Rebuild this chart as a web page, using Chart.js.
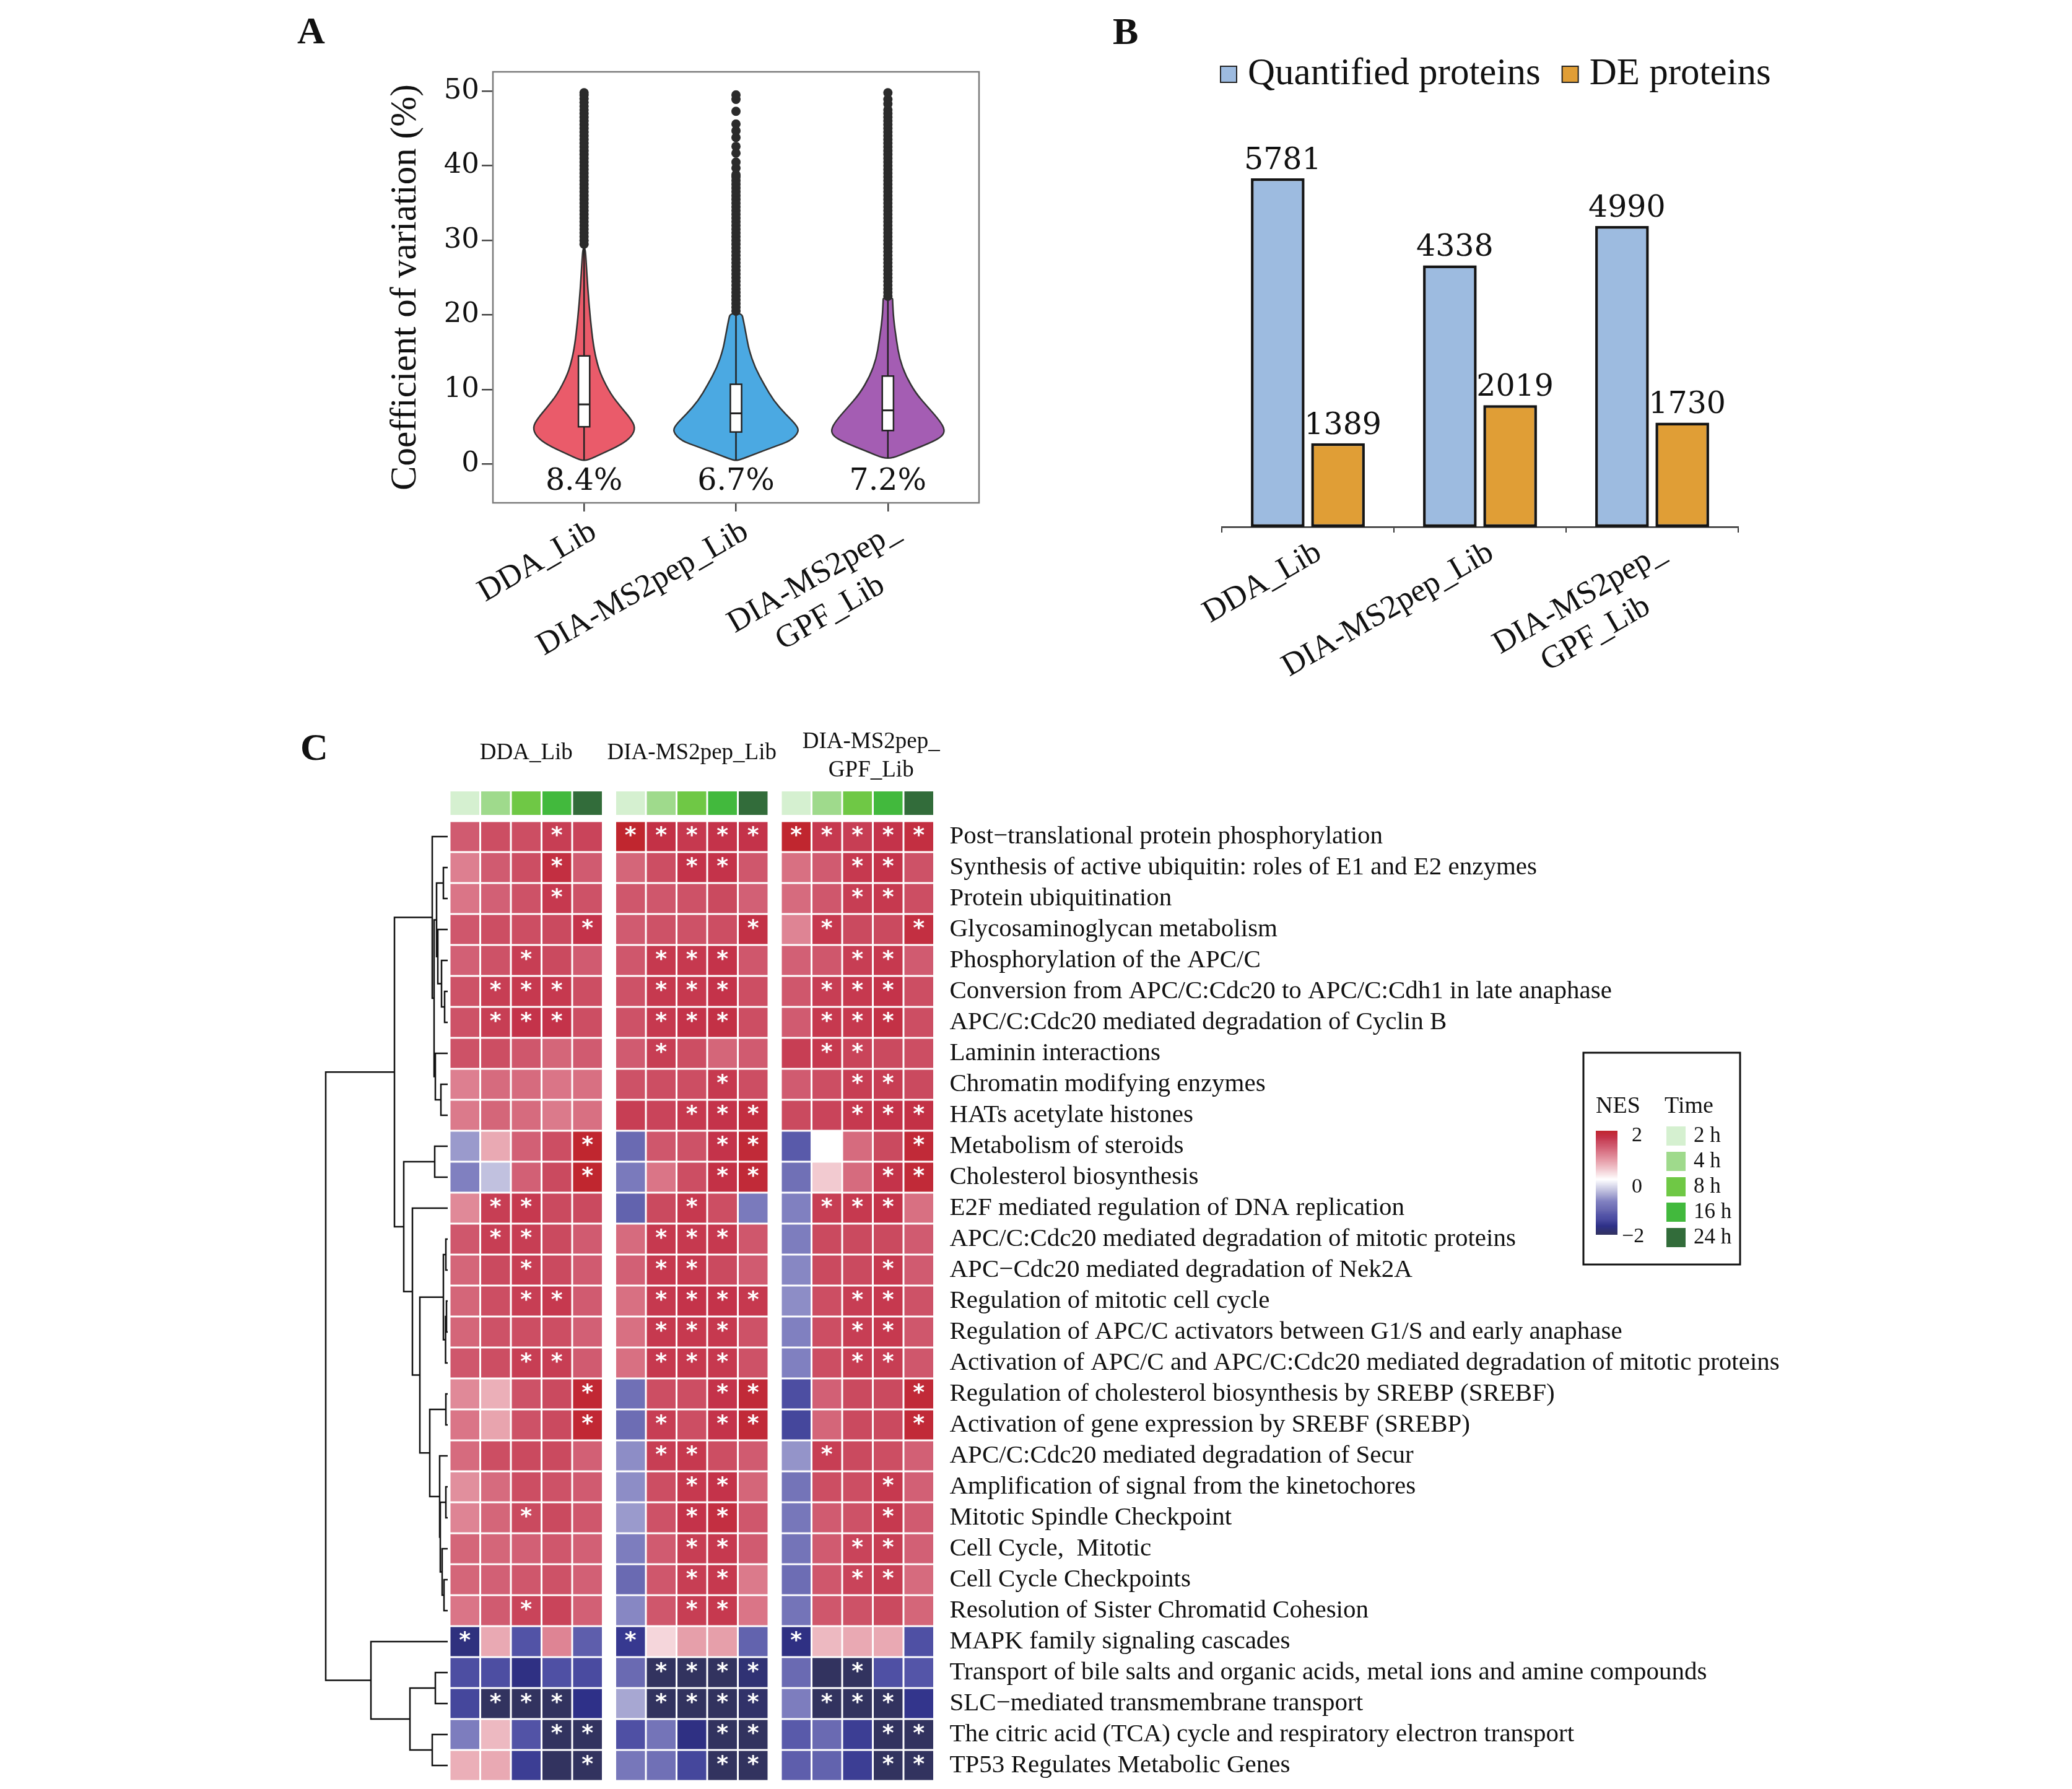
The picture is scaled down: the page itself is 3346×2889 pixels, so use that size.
<!DOCTYPE html>
<html>
<head>
<meta charset="utf-8">
<script src="https://cdn.jsdelivr.net/npm/chart.js@4.4.1/dist/chart.umd.min.js"></script>
<style>
  html, body { margin: 0; padding: 0; background: #fff; }
  body { width: 3346px; height: 2889px; position: relative; overflow: hidden; }
  canvas { position: absolute; }
  .tag { position: absolute; font: bold 62px "Liberation Serif", serif; color: #111; line-height: 1; }
</style>
</head>
<body>
<div class="tag" style="left:480px;top:18px">A</div>
<div class="tag" style="left:1797px;top:19px">B</div>
<div class="tag" style="left:485px;top:1175px">C</div>

<canvas id="cv" width="1000" height="1020" style="left:600px;top:100px"></canvas>
<canvas id="bars" width="1160" height="1120" style="left:1760px;top:0px"></canvas>
<canvas id="dendro" width="226" height="1739" style="left:500px;top:1150px"></canvas>
<canvas id="heat" width="2200" height="1739" style="left:700px;top:1150px"></canvas>

<script>
  'use strict';

  const TEXT = '"Liberation Serif", serif';
  const NUM = '"DejaVu Serif", serif';
  Chart.defaults.font.family = TEXT;
  Chart.defaults.color = '#111';

  // ---------- A: CV violins ----------
  // trailing spaces on the 2nd line pull it back under the centre of the first one
  const cvGroups = ['DDA_Lib', 'DIA-MS2pep_Lib', ['DIA-MS2pep_', 'GPF_Lib     ']];
  const cvLabels = ['8.4%', '6.7%', '7.2%'];
  const cvTicks = [0, 10, 20, 30, 40, 50];

  // density profile: CV level -> half width (x units)
  const ddaLevels = [0.5, 1.4, 2.6, 3.7, 4.9, 6.1, 7.6, 9.4, 11.8, 13.5, 15.9, 19.5, 23.6, 27.8, 29];
  const ddaWidth = [0.024, 0.118, 0.244, 0.314, 0.338, 0.306, 0.244, 0.175, 0.114, 0.086, 0.061, 0.041, 0.024, 0.012, 0.006];
  const ms2Levels = [0.5, 1.1, 2.3, 3.1, 4.3, 5.2, 6.7, 8.5, 10.6, 12.9, 15.3, 17.1, 19.5, 20.2];
  const ms2Width = [0.016, 0.094, 0.248, 0.358, 0.415, 0.399, 0.326, 0.248, 0.187, 0.126, 0.086, 0.069, 0.047, 0.037];
  const gpfLevels = [0.8, 1.7, 2.85, 3.7, 4.6, 5.8, 7.6, 9.4, 11.8, 14.1, 16.5, 19.5, 21.9, 22.3];
  const gpfWidth = [0.033, 0.138, 0.281, 0.358, 0.375, 0.342, 0.265, 0.187, 0.118, 0.077, 0.057, 0.037, 0.031, 0.031];

  const boxQ1 = [5.0, 4.3, 4.5];
  const boxMed = [8.0, 6.8, 7.2];
  const boxQ3 = [14.5, 10.7, 11.8];
  const whiskLo = [0.5, 0.5, 0.8];
  const whiskHi = [29, 20.2, 22.3];

  const ddaOut = [29.5, 30, 30.5, 31, 31.5, 32, 32.5, 33, 33.5, 34, 34.5, 35, 35.5, 36, 36.5, 37, 37.5, 38, 38.5, 39,
    39.5, 40, 40.5, 41, 41.5, 42, 42.5, 43, 43.5, 44, 44.5, 45, 45.5, 46, 46.5, 47, 47.5, 48, 48.5, 49, 49.5, 49.8];
  const ms2Out = [20.5, 21, 21.5, 22, 22.5, 23, 23.5, 24, 24.5, 25, 25.5, 26, 26.5, 27, 27.5, 28, 28.5, 29, 29.5, 30,
    30.5, 31, 31.5, 32, 32.5, 33, 33.5, 34, 34.5, 35, 35.5, 36, 36.5, 37, 37.5, 38, 38.5, 38.8,
    39.7, 40.5, 41.7, 42.6, 43.8, 44.7, 45.6, 47.3, 48.9, 49.5];
  const gpfOut = [22.5, 23, 23.5, 24, 24.5, 25, 25.5, 26, 26.5, 27, 27.5, 28, 28.5, 29, 29.5, 30, 30.5, 31, 31.5, 32,
    32.5, 33, 33.5, 34, 34.5, 35, 35.5, 36, 36.5, 37, 37.5, 38, 38.5, 39, 39.5, 40, 40.5, 41, 41.5, 42, 42.5,
    43, 43.5, 44, 44.5, 45, 45.5, 46, 46.5, 47, 47.5, 48.3, 48.9, 49.8];

  const violinFill = ['#ea5b6a', '#4ba9e2', '#a45db3'];
  const violins = [
    { levels: ddaLevels, width: ddaWidth },
    { levels: ms2Levels, width: ms2Width },
    { levels: gpfLevels, width: gpfWidth },
  ];

  function smoothClosed(ctx, pts) {
    const n = pts.length;
    const mid = (a, b) => [(a[0] + b[0]) / 2, (a[1] + b[1]) / 2];
    ctx.beginPath();
    const m0 = mid(pts[n - 1], pts[0]);
    ctx.moveTo(m0[0], m0[1]);
    for (let i = 0; i < n; i++) {
      const p = pts[i], m = mid(p, pts[(i + 1) % n]);
      ctx.quadraticCurveTo(p[0], p[1], m[0], m[1]);
    }
    ctx.closePath();
  }

  // tick-label half heights would otherwise push the plot area in
  const noLabelPadding = s => { s.paddingTop = 0; s.paddingBottom = 0; };

  const violinPlugin = {
    id: 'violins',
    beforeDatasetsDraw(chart) {
      const { ctx, scales: { x, y } } = chart;
      ctx.save();
      violins.forEach((v, i) => {
        const c = i + 1;
        const right = v.levels.map((lv, k) => [x.getPixelForValue(c + v.width[k]), y.getPixelForValue(lv)]);
        const left = v.levels.map((lv, k) => [x.getPixelForValue(c - v.width[k]), y.getPixelForValue(lv)]).reverse();
        smoothClosed(ctx, right.concat(left));
        ctx.fillStyle = violinFill[i];
        ctx.fill();
        ctx.lineWidth = 2.5;
        ctx.strokeStyle = '#333';
        ctx.stroke();

        // whisker + box
        const cx = x.getPixelForValue(c);
        const hw = x.getPixelForValue(c + 0.037) - cx;
        ctx.strokeStyle = '#222';
        ctx.lineWidth = 2.5;
        ctx.beginPath();
        ctx.moveTo(cx, y.getPixelForValue(whiskLo[i]));
        ctx.lineTo(cx, y.getPixelForValue(whiskHi[i]));
        ctx.stroke();
        const yTop = y.getPixelForValue(boxQ3[i]), yBot = y.getPixelForValue(boxQ1[i]);
        ctx.fillStyle = '#fff';
        ctx.fillRect(cx - hw, yTop, hw * 2, yBot - yTop);
        ctx.strokeRect(cx - hw, yTop, hw * 2, yBot - yTop);
        ctx.beginPath();
        ctx.lineWidth = 3;
        const ym = y.getPixelForValue(boxMed[i]);
        ctx.moveTo(cx - hw, ym);
        ctx.lineTo(cx + hw, ym);
        ctx.stroke();
      });
      ctx.restore();
    },
    afterDatasetsDraw(chart) {
      const { ctx, scales: { x, y }, chartArea: a } = chart;
      ctx.save();
      ctx.font = '49px ' + NUM;
      ctx.fillStyle = '#111';
      ctx.textAlign = 'center';
      ctx.textBaseline = 'middle';
      cvLabels.forEach((t, i) => ctx.fillText(t, x.getPixelForValue(i + 1), y.getPixelForValue(-2.4)));
      ctx.strokeStyle = '#7a7a7a';
      ctx.lineWidth = 2.5;
      ctx.strokeRect(a.left, a.top, a.right - a.left, a.bottom - a.top);
      ctx.restore();
    },
  };

  const outStyle = { pointRadius: 7.5, pointHoverRadius: 7.5, backgroundColor: '#2b2b2b', borderWidth: 0 };
  new Chart(document.getElementById('cv'), {
    type: 'scatter',
    data: {
      datasets: [
        Object.assign({ data: ddaOut.map(v => ({ x: 1, y: v })) }, outStyle),
        Object.assign({ data: ms2Out.map(v => ({ x: 2, y: v })) }, outStyle),
        Object.assign({ data: gpfOut.map(v => ({ x: 3, y: v })) }, outStyle),
      ],
    },
    options: {
      responsive: false, animation: false, devicePixelRatio: 1,
      layout: { padding: { top: 16, right: 19, left: 0, bottom: 0 } },
      plugins: { legend: { display: false }, tooltip: { enabled: false } },
      scales: {
        x: {
          type: 'linear', min: 0.4, max: 3.6,
          afterBuildTicks: s => { s.ticks = [1, 2, 3].map(v => ({ value: v })); },
          afterFit: s => { s.height = 308; s.paddingLeft = 0; s.paddingRight = 0; },
          ticks: { autoSkip: false, minRotation: 30, maxRotation: 30, padding: 2, labelOffset: 16,
                   font: { size: 52 }, callback: v => cvGroups[Math.round(v) - 1] },
          grid: { drawOnChartArea: false, tickLength: 14, color: '#444', lineWidth: 2.5 },
          border: { display: false },
        },
        y: {
          min: -5.2, max: 52.6,
          afterBuildTicks: s => { s.ticks = cvTicks.map(v => ({ value: v })); },
          afterFit: s => { s.width = 196; noLabelPadding(s); },
          ticks: { padding: 4, font: { family: NUM, size: 45 } },
          grid: { drawOnChartArea: false, tickLength: 18, color: '#444', lineWidth: 2.5 },
          border: { display: false },
          title: { display: true, text: 'Coefficient of variation (%)', font: { size: 59 }, padding: { top: 20 } },
        },
      },
    },
    plugins: [violinPlugin],
  });

  // ---------- B: protein counts ----------
  const libGroups = ['DDA_Lib', 'DIA-MS2pep_Lib', ['DIA-MS2pep_', 'GPF_Lib     ']];
  const quantified = [5781, 4338, 4990];
  const deProteins = [1389, 2019, 1730];

  const barValuePlugin = {
    id: 'barValues',
    afterDatasetsDraw(chart) {
      const { ctx } = chart;
      ctx.save();
      ctx.font = '49px ' + NUM;
      ctx.fillStyle = '#111';
      ctx.textAlign = 'center';
      ctx.textBaseline = 'alphabetic';
      chart.data.datasets.forEach((ds, di) => {
        chart.getDatasetMeta(di).data.forEach((bar, i) => {
          ctx.fillText(String(ds.data[i]), bar.x + 8, bar.y - 15);
        });
      });
      // legend
      ctx.font = '61px ' + TEXT;
      ctx.textAlign = 'left';
      let lx = 211;
      chart.data.datasets.forEach(ds => {
        ctx.fillStyle = ds.backgroundColor;
        ctx.fillRect(lx, 107, 26, 26);
        ctx.strokeStyle = '#222';
        ctx.lineWidth = 2;
        ctx.strokeRect(lx, 107, 26, 26);
        lx += 44;
        ctx.fillStyle = '#111';
        ctx.fillText(ds.label, lx, 136);
        lx += ctx.measureText(ds.label).width + 35;
      });
      ctx.restore();
    },
  };

  new Chart(document.getElementById('bars'), {
    type: 'bar',
    data: {
      labels: libGroups,
      datasets: [
        { label: 'Quantified proteins', data: quantified, backgroundColor: '#9dbbe0' },
        { label: 'DE proteins', data: deProteins, backgroundColor: '#e09e36' },
      ],
    },
    options: {
      responsive: false, animation: false, devicePixelRatio: 1,
      layout: { padding: { top: 266.6, left: 213, right: 113, bottom: 0 } },
      datasets: { bar: { borderColor: '#151515', borderWidth: 4.5, borderSkipped: false,
                         categoryPercentage: 0.7, barPercentage: 0.89 } },
      plugins: { legend: { display: false }, tooltip: { enabled: false } },
      scales: {
        x: {
          afterFit: s => { s.height = 269; s.paddingLeft = 0; s.paddingRight = 0; },
          ticks: { autoSkip: false, minRotation: 30, maxRotation: 30, padding: 2, labelOffset: 18, font: { size: 52 } },
          grid: { offset: true, drawOnChartArea: false, tickLength: 9, color: '#333', lineWidth: 2 },
          border: { display: true, color: '#333', width: 2.5 },
        },
        y: { display: false, min: 0, max: 6000 },
      },
    },
    plugins: [barValuePlugin],
  });

  // ---------- C: NES heatmap ----------
  const heatGroups = ['DDA_Lib', 'DIA-MS2pep_Lib', ['DIA-MS2pep_', 'GPF_Lib']];
  const timeLabels = ['2 h', '4 h', '8 h', '16 h', '24 h'];
  const timeColors = ['#d5f0d0', '#9fda8c', '#6fc845', '#42b93d', '#326c3a'];
  const pathways = [
    'Post\u2212translational protein phosphorylation',
    'Synthesis of active ubiquitin: roles of E1 and E2 enzymes',
    'Protein ubiquitination',
    'Glycosaminoglycan metabolism',
    'Phosphorylation of the APC/C',
    'Conversion from APC/C:Cdc20 to APC/C:Cdh1 in late anaphase',
    'APC/C:Cdc20 mediated degradation of Cyclin B',
    'Laminin interactions',
    'Chromatin modifying enzymes',
    'HATs acetylate histones',
    'Metabolism of steroids',
    'Cholesterol biosynthesis',
    'E2F mediated regulation of DNA replication',
    'APC/C:Cdc20 mediated degradation of mitotic proteins',
    'APC\u2212Cdc20 mediated degradation of Nek2A',
    'Regulation of mitotic cell cycle',
    'Regulation of APC/C activators between G1/S and early anaphase',
    'Activation of APC/C and APC/C:Cdc20 mediated degradation of mitotic proteins',
    'Regulation of cholesterol biosynthesis by SREBP (SREBF)',
    'Activation of gene expression by SREBF (SREBP)',
    'APC/C:Cdc20 mediated degradation of Secur',
    'Amplification of signal from the kinetochores',
    'Mitotic Spindle Checkpoint',
    'Cell Cycle,  Mitotic',
    'Cell Cycle Checkpoints',
    'Resolution of Sister Chromatid Cohesion',
    'MAPK family signaling cascades',
    'Transport of bile salts and organic acids, metal ions and amine compounds',
    'SLC\u2212mediated transmembrane transport',
    'The citric acid (TCA) cycle and respiratory electron transport',
    'TP53 Regulates Metabolic Genes',
  ];

  // NES per pathway, time points 2/4/8/16/24 h
  const nesDDA = [
    [1.5, 1.65, 1.65, 1.8, 1.75], [1.15, 1.5, 1.65, 2.0, 1.5], [1.25, 1.45, 1.6, 1.85, 1.6], [1.55, 1.65, 1.65, 1.7, 1.9],
    [1.45, 1.6, 1.8, 1.7, 1.5], [1.6, 1.8, 1.85, 1.85, 1.65], [1.6, 1.8, 1.9, 1.9, 1.65], [1.6, 1.65, 1.55, 1.4, 1.5],
    [1.15, 1.35, 1.35, 1.25, 1.3], [1.2, 1.4, 1.35, 1.2, 1.3], [-0.8, 0.75, 1.45, 1.65, 2.2], [-1.0, -0.5, 1.45, 1.7, 2.2],
    [1.05, 1.8, 1.85, 1.7, 1.7], [1.55, 1.8, 1.8, 1.7, 1.5], [1.4, 1.7, 1.8, 1.7, 1.5], [1.4, 1.65, 1.8, 1.85, 1.5],
    [1.4, 1.6, 1.65, 1.65, 1.45], [1.55, 1.65, 1.8, 1.8, 1.5], [1.05, 0.7, 1.6, 1.7, 2.15], [1.25, 0.8, 1.6, 1.7, 2.15],
    [1.35, 1.65, 1.7, 1.7, 1.45], [1.0, 1.35, 1.65, 1.6, 1.5], [1.1, 1.4, 1.7, 1.7, 1.55], [1.4, 1.4, 1.45, 1.55, 1.45],
    [1.4, 1.45, 1.55, 1.6, 1.45], [1.25, 1.5, 1.75, 1.75, 1.45], [-2.2, 0.75, -1.65, 1.1, -1.5], [-1.75, -1.75, -2.15, -1.7, -1.8],
    [-1.85, -2.5, -2.5, -2.5, -2.1], [-1.05, 0.6, -1.65, -2.5, -2.5], [0.7, 0.75, -1.95, -2.5, -2.5],
  ];
  const nesMS2pep = [
    [2.2, 1.95, 1.85, 1.9, 1.9], [1.4, 1.65, 1.9, 1.9, 1.55], [1.55, 1.55, 1.6, 1.7, 1.45], [1.5, 1.6, 1.6, 1.65, 1.95],
    [1.55, 1.85, 1.85, 1.9, 1.55], [1.6, 1.85, 1.85, 1.9, 1.65], [1.6, 1.85, 1.9, 1.95, 1.65], [1.5, 1.8, 1.65, 1.4, 1.5],
    [1.6, 1.65, 1.65, 1.85, 1.65], [1.8, 1.75, 1.85, 1.9, 2.0], [-1.35, 1.55, 1.6, 1.9, 2.1], [-1.1, 1.25, 1.65, 1.95, 2.1],
    [-1.45, 1.7, 1.85, 1.65, -1.1], [1.35, 1.85, 1.85, 1.85, 1.55], [1.45, 1.85, 1.85, 1.7, 1.5], [1.3, 1.85, 1.9, 1.9, 1.85],
    [1.3, 1.85, 1.85, 1.85, 1.6], [1.3, 1.85, 1.85, 1.85, 1.6], [-1.25, 1.65, 1.65, 1.9, 2.1], [-1.3, 1.8, 1.65, 1.9, 2.1],
    [-0.9, 1.8, 1.85, 1.65, 1.5], [-0.9, 1.65, 1.85, 1.9, 1.4], [-0.8, 1.6, 1.9, 2.0, 1.55], [-1.05, 1.5, 1.8, 1.85, 1.5],
    [-1.35, 1.55, 1.8, 1.85, 1.2], [-0.95, 1.55, 1.8, 1.85, 1.25], [-2.0, 0.35, 0.85, 0.85, -1.45], [-1.35, -2.5, -2.5, -2.5, -2.3],
    [-0.7, -2.5, -2.5, -2.5, -2.4], [-1.7, -1.2, -2.15, -2.5, -2.5], [-1.15, -1.25, -1.85, -2.5, -2.5],
  ];
  const nesGPF = [
    [2.2, 1.85, 1.8, 1.9, 2.0], [1.3, 1.5, 1.85, 1.9, 1.6], [1.35, 1.55, 1.8, 1.85, 1.65], [1.1, 1.85, 1.7, 1.7, 2.0],
    [1.45, 1.55, 1.8, 1.85, 1.5], [1.55, 1.8, 1.85, 1.9, 1.65], [1.5, 1.85, 1.85, 1.95, 1.65], [1.8, 1.85, 1.75, 1.7, 1.65],
    [1.5, 1.65, 1.8, 1.8, 1.7], [1.7, 1.75, 1.85, 1.9, 1.95], [-1.55, 0, 1.35, 1.7, 2.1], [-1.25, 0.45, 1.35, 1.9, 2.1],
    [-1.0, 1.8, 1.85, 1.9, 1.3], [-1.05, 1.7, 1.7, 1.7, 1.5], [-0.95, 1.7, 1.7, 1.85, 1.5], [-0.9, 1.65, 1.8, 1.85, 1.6],
    [-1.0, 1.65, 1.8, 1.85, 1.55], [-1.0, 1.65, 1.8, 1.8, 1.55], [-1.75, 1.45, 1.7, 1.7, 2.1], [-1.85, 1.4, 1.7, 1.7, 2.1],
    [-0.85, 1.8, 1.7, 1.65, 1.45], [-1.2, 1.65, 1.65, 1.85, 1.45], [-1.15, 1.5, 1.6, 1.85, 1.5], [-1.2, 1.5, 1.75, 1.8, 1.45],
    [-1.3, 1.55, 1.75, 1.8, 1.35], [-1.2, 1.55, 1.6, 1.7, 1.4], [-2.15, 0.6, 0.75, 0.75, -1.7], [-1.35, -2.5, -2.5, -1.7, -1.6],
    [-1.05, -2.5, -2.5, -2.5, -2.05], [-1.55, -1.35, -1.95, -2.5, -2.5], [-1.5, -1.45, -1.95, -2.5, -2.5],
  ];
  // significance marks, 1 = '*'
  const starDDA = ['00010', '00010', '00010', '00001', '00100', '01110', '01110', '00000', '00000', '00000', '00001',
    '00001', '01100', '01100', '00100', '00110', '00000', '00110', '00001', '00001', '00000', '00000', '00100',
    '00000', '00000', '00100', '10000', '00000', '01110', '00011', '00001'];
  const starMS2pep = ['11111', '00110', '00000', '00001', '01110', '01110', '01110', '01000', '00010', '00111', '00011',
    '00011', '00100', '01110', '01100', '01111', '01110', '01110', '00011', '01011', '01100', '00110', '00110',
    '00110', '00110', '00110', '10000', '01111', '01111', '00011', '00011'];
  const starGPF = ['11111', '00110', '00110', '01001', '00110', '01110', '01110', '01100', '00110', '00111', '00001',
    '00011', '01110', '00000', '00010', '00110', '00110', '00110', '00001', '00001', '01000', '00010', '00010',
    '00110', '00110', '00000', '10000', '00100', '01110', '00011', '00011'];

  // row dendrogram, hclust style: negative = leaf (row number), positive = earlier merge
  const dendroMerges = [
    [-2, -3, 7], [-6, -7, 5], [-5, 2, 10], [-4, 3, 16], [1, 4, 18], [-9, -10, 11], [-8, 6, 20], [5, 7, 22],
    [-1, 8, 25], [-11, -12, 21], [-14, -15, 3], [-16, -17, 2], [12, -18, 3.5], [11, 13, 7], [-19, -20, 3],
    [-22, -23, 3], [-25, -26, 6], [-24, 17, 9], [16, 18, 12], [-21, 19, 13], [15, 20, 29], [14, 21, 45],
    [-13, 22, 57], [10, 23, 71], [9, 24, 86], [-28, -29, 20], [-30, -31, 25], [26, 27, 61], [-27, 28, 124],
    [25, 29, 197],
  ];

  const nesStops = [
    [-2.5, [50, 51, 95]], [-2.1, [46, 48, 136]], [-1.8, [74, 75, 160]], [-1.6, [84, 85, 168]], [-1.4, [103, 103, 176]],
    [-1.0, [128, 128, 192]], [-0.6, [180, 180, 216]], [0, [255, 255, 255]], [0.5, [240, 196, 203]], [0.8, [232, 164, 174]],
    [1.1, [222, 132, 148]], [1.3, [216, 112, 130]], [1.5, [208, 91, 112]], [1.7, [202, 74, 95]], [1.9, [196, 51, 74]],
    [2.2, [192, 38, 47]],
  ];
  function nesColor(v) {
    const s = nesStops;
    if (v <= s[0][0]) return `rgb(${s[0][1].join(',')})`;
    for (let i = 1; i < s.length; i++) {
      if (v <= s[i][0]) {
        const t = (v - s[i - 1][0]) / (s[i][0] - s[i - 1][0]);
        const c = s[i - 1][1].map((a, k) => Math.round(a + (s[i][1][k] - a) * t));
        return `rgb(${c.join(',')})`;
      }
    }
    return `rgb(${s[s.length - 1][1].join(',')})`;
  }

  const GAP = 0.404; // gap between library blocks, in cell units
  const blocks = [
    { nes: nesDDA, stars: starDDA },
    { nes: nesMS2pep, stars: starMS2pep },
    { nes: nesGPF, stars: starGPF },
  ];
  const colPos = (g, j) => g * (5 + GAP) + j;

  const heatPlugin = {
    id: 'heat',
    afterDatasetsDraw(chart) {
      const { ctx, scales: { x, y }, chartArea: area } = chart;
      ctx.save();
      blocks.forEach((b, g) => {
        // time colour strip
        timeColors.forEach((col, j) => {
          const x0 = x.getPixelForValue(colPos(g, j)), x1 = x.getPixelForValue(colPos(g, j + 1));
          const y0 = y.getPixelForValue(-0.96), y1 = y.getPixelForValue(-0.2);
          ctx.fillStyle = col;
          ctx.fillRect(x0 + 1.5, y0, x1 - x0 - 3, y1 - y0);
        });
        b.nes.forEach((row, i) => {
          row.forEach((v, j) => {
            const x0 = x.getPixelForValue(colPos(g, j)), x1 = x.getPixelForValue(colPos(g, j + 1));
            const y0 = y.getPixelForValue(i), y1 = y.getPixelForValue(i + 1);
            ctx.fillStyle = nesColor(v);
            ctx.fillRect(x0 + 1.5, y0 + 1.5, x1 - x0 - 3, y1 - y0 - 3);
            if (b.stars[i][j] === '1') {
              ctx.fillStyle = '#fff';
              ctx.font = 'bold 36px "DejaVu Sans", sans-serif';
              ctx.textAlign = 'center';
              ctx.textBaseline = 'alphabetic';
              ctx.fillText('*', (x0 + x1) / 2, y0 + 34);
            }
          });
        });
        // block title
        const cx = x.getPixelForValue(colPos(g, 2.5));
        const title = heatGroups[g];
        ctx.fillStyle = '#111';
        ctx.font = '37px ' + TEXT;
        ctx.textAlign = 'center';
        ctx.textBaseline = 'alphabetic';
        if (Array.isArray(title)) {
          ctx.fillText(title[0], cx + 22, area.top - 70);
          ctx.fillText(title[1], cx + 22, area.top - 24);
        } else {
          ctx.fillText(title, cx, area.top - 52);
        }
      });

      // legend box
      const L = 1857, T = 550;
      ctx.strokeStyle = '#111';
      ctx.lineWidth = 3;
      ctx.strokeRect(L, T, 253, 342);
      ctx.fillStyle = '#111';
      ctx.textAlign = 'left';
      ctx.textBaseline = 'alphabetic';
      ctx.font = '38px ' + TEXT;
      ctx.fillText('NES', L + 20, T + 97);
      ctx.fillText('Time', L + 131, T + 97);
      const barTop = T + 126, barH = 168;
      const vMax = nesStops[nesStops.length - 1][0], vMin = nesStops[0][0];
      for (let k = 0; k < barH; k++) {
        ctx.fillStyle = nesColor(vMax - (vMax - vMin) * (k + 0.5) / barH);
        ctx.fillRect(L + 20, barTop + k, 35, 1);
      }
      ctx.fillStyle = '#111';
      ctx.font = '34px ' + TEXT;
      ctx.textBaseline = 'middle';
      ctx.fillText('2', L + 78, barTop + 8);
      ctx.fillText('0', L + 78, barTop + 91);
      ctx.fillText('\u22122', L + 62, barTop + 171);
      ctx.font = '35px ' + TEXT;
      timeLabels.forEach((t, j) => {
        const sy = T + 119 + 41 * j;
        ctx.fillStyle = timeColors[j];
        ctx.fillRect(L + 134, sy, 31, 31);
        ctx.fillStyle = '#111';
        ctx.fillText(t, L + 178, sy + 16);
      });
      ctx.restore();
    },
  };

  new Chart(document.getElementById('heat'), {
    type: 'scatter',
    data: { datasets: [] },
    options: {
      responsive: false, animation: false, devicePixelRatio: 1,
      layout: { padding: { left: 26, top: 128, bottom: 13, right: 0 } },
      plugins: { legend: { display: false }, tooltip: { enabled: false } },
      scales: {
        x: { type: 'linear', min: 0, max: 15 + 2 * GAP, display: false },
        y: {
          type: 'linear', position: 'right', min: -0.96, max: 31, reverse: true,
          afterBuildTicks: s => { s.ticks = pathways.map((_, i) => ({ value: i + 0.5 })); },
          afterFit: s => { s.width = 1391.5; noLabelPadding(s); },
          ticks: { autoSkip: false, padding: 25, font: { size: 41 }, color: '#111',
                   callback: v => pathways[Math.floor(v)] },
          grid: { display: false, drawTicks: false },
          border: { display: false },
        },
      },
    },
    plugins: [heatPlugin],
  });

  function dendroPoints() {
    const ys = [], hs = [], pts = [];
    const node = id => (id < 0 ? { y: -id - 0.5, h: 0 } : { y: ys[id - 1], h: hs[id - 1] });
    dendroMerges.forEach(([a, b, h]) => {
      const A = node(a), B = node(b);
      pts.push({ x: A.h, y: A.y }, { x: h, y: A.y }, { x: h, y: B.y }, { x: B.h, y: B.y }, { x: null, y: null });
      ys.push((A.y + B.y) / 2);
      hs.push(h);
    });
    return pts;
  }

  new Chart(document.getElementById('dendro'), {
    type: 'scatter',
    data: { datasets: [{ data: dendroPoints(), showLine: true, spanGaps: false, borderColor: '#111',
                         borderWidth: 2.5, pointRadius: 0, pointHoverRadius: 0, tension: 0 }] },
    options: {
      responsive: false, animation: false, devicePixelRatio: 1,
      layout: { padding: { top: 128, bottom: 13, left: 0, right: 3 } },
      plugins: { legend: { display: false }, tooltip: { enabled: false } },
      scales: {
        x: { type: 'linear', min: 0, max: 223, reverse: true, display: false },
        y: { type: 'linear', min: -0.96, max: 31, reverse: true, display: false },
      },
    },
  });
</script>
</body>
</html>
